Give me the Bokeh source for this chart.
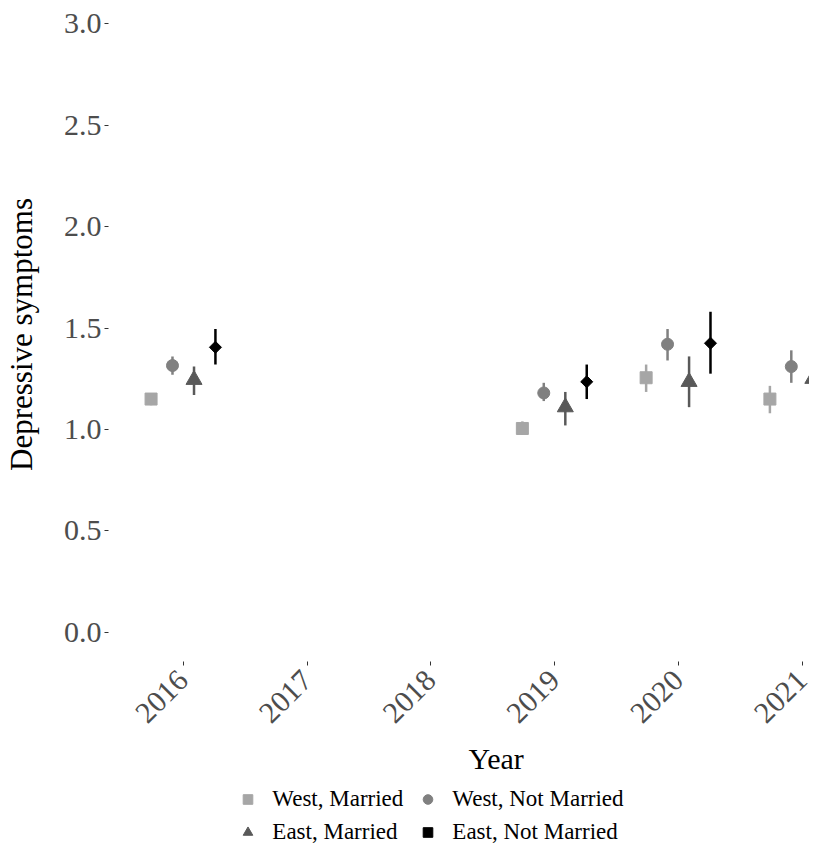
import numpy as np
from bokeh.plotting import figure
from bokeh.layouts import column
from bokeh.models import (Range1d, FixedTicker, NumeralTickFormatter, Legend, LegendItem,
                          Title, ColumnDataSource)
from bokeh.transform import dodge
from bokeh.embed import file_html
from bokeh.resources import INLINE

# ---- data ----
x_ticks = [2016, 2017, 2018, 2019, 2020, 2021]
y_ticks = [0.0, 0.5, 1.0, 1.5, 2.0, 2.5, 3.0]

groups = ["West, Married", "West, Not Married", "East, Married", "East, Not Married"]

wm_year = [2016, 2019, 2020, 2021]
wm_mean = [1.150, 1.005, 1.255, 1.150]
wm_lo   = [1.120, 0.975, 1.185, 1.080]
wm_hi   = [1.175, 1.040, 1.320, 1.215]

wn_year = [2016, 2019, 2020, 2021]
wn_mean = [1.315, 1.180, 1.420, 1.310]
wn_lo   = [1.270, 1.140, 1.340, 1.230]
wn_hi   = [1.360, 1.230, 1.495, 1.390]

em_year = [2016, 2019, 2020, 2021]
em_mean = [1.245, 1.110, 1.235, 1.250]
em_lo   = [1.170, 1.020, 1.110, 1.120]
em_hi   = [1.310, 1.185, 1.360, 1.375]

en_year = [2016, 2019, 2020]
en_mean = [1.405, 1.235, 1.425]
en_lo   = [1.320, 1.150, 1.275]
en_hi   = [1.495, 1.320, 1.580]

# ---- styles ----
SERIF = "Liberation Serif"
colors = ["#A6A6A6", "#808080", "#595959", "#000000"]
markers = ["square", "circle", "triangle", "square"]
sizes = [12, 12, 16, 8.5]
angles = [0, 0, 0, np.pi / 4]
offsets = [-0.26, -0.087, 0.087, 0.26]

p = figure(frame_width=701, frame_height=654, output_backend="svg", toolbar_location=None,
           x_range=Range1d(2015.396, 2021.06), y_range=Range1d(-0.143, 3.079),
           min_border_left=97, min_border_right=0, min_border_top=7, min_border_bottom=124)
p.outline_line_color = None
p.xgrid.visible = False
p.ygrid.visible = False

series = [
    (wm_year, wm_mean, wm_lo, wm_hi),
    (wn_year, wn_mean, wn_lo, wn_hi),
    (em_year, em_mean, em_lo, em_hi),
    (en_year, en_mean, en_lo, en_hi),
]

for i, (yr, m, lo, hi) in enumerate(series):
    src = ColumnDataSource(dict(year=yr, mean=m, lo=lo, hi=hi))
    xd = dodge("year", offsets[i], range=p.x_range)
    p.segment(x0=xd, x1=xd, y0="lo", y1="hi", source=src,
              line_color=colors[i], line_width=2.5)
    p.scatter(x=xd, y="mean", source=src, marker=markers[i], size=sizes[i],
              angle=angles[i], fill_color=colors[i], line_color=colors[i], line_width=1)

p.axis.axis_line_color = None
p.axis.major_tick_in = 0
p.axis.major_tick_out = 4
p.axis.major_tick_line_color = "#333333"
p.axis.minor_tick_line_color = None
p.axis.major_label_text_font = SERIF
p.axis.major_label_text_font_size = "30px"
p.axis.major_label_text_color = "#4D4D4D"

p.xaxis.ticker = FixedTicker(ticks=x_ticks)
p.xaxis.major_label_orientation = np.pi / 4
p.xaxis.major_label_standoff = 10
p.yaxis.ticker = FixedTicker(ticks=y_ticks)
p.yaxis.formatter = NumeralTickFormatter(format="0.0")
p.yaxis.major_label_standoff = 3

p.yaxis.axis_label = "Depressive symptoms"
p.yaxis.axis_label_text_font = SERIF
p.yaxis.axis_label_text_font_size = "31px"
p.yaxis.axis_label_text_font_style = "normal"
p.yaxis.axis_label_text_color = "#000000"
p.yaxis.axis_label_standoff = 22

p.add_layout(Title(text="Year", align="left", offset=360, text_font=SERIF,
                   text_font_size="30px", text_font_style="normal",
                   text_color="#000000", standoff=10), "below")


# ---- legend strips (one row each, below the plot) ----
def legend_row(idx, height, bottom_gap):
    f = figure(frame_width=701, frame_height=height, output_backend="svg",
               toolbar_location=None,
               x_range=Range1d(0, 1), y_range=Range1d(0, 1),
               x_axis_type=None, y_axis_type=None,
               min_border_left=97, min_border_right=0, min_border_top=0,
               min_border_bottom=0)
    f.outline_line_color = None
    f.xgrid.visible = False
    f.ygrid.visible = False
    its = []
    for i in idx:
        # legend proxy: a single point placed outside the visible range
        r = f.scatter(x=[-5], y=[-5], marker=markers[i], size=sizes[i], angle=angles[i],
                      fill_color=colors[i], line_color=colors[i], line_width=1)
        its.append(LegendItem(label=groups[i], renderers=[r]))
    lgd = Legend(items=its, orientation="horizontal", location=(203, bottom_gap),
                 label_text_font=SERIF, label_text_font_size="23px",
                 label_text_color="#000000",
                 glyph_width=25, glyph_height=24, label_height=24, label_width=135,
                 label_standoff=12, spacing=8, padding=0, margin=0,
                 border_line_color=None, background_fill_alpha=0)
    f.add_layout(lgd)
    return f


row1 = legend_row([0, 1], 33, 6)
row2 = legend_row([2, 3], 27, 0)

layout = column(p, row1, row2, spacing=0)
open("out.html", "w").write(file_html(layout, INLINE))
